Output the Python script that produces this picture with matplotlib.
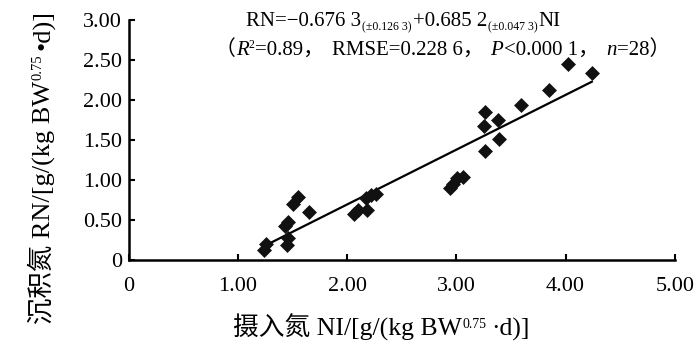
import matplotlib
matplotlib.use("Agg")
import matplotlib.pyplot as plt
from matplotlib.transforms import IdentityTransform

SERIF = ["Liberation Serif", "Noto Sans CJK SC"]
plt.rcParams["font.family"] = SERIF

# intake N (NI) and retained N (RN), g/(kg BW^0.75 d)
ni = [1.24, 1.26, 1.45, 1.46, 1.43, 1.46, 1.50, 1.55, 1.65,
      2.06, 2.10, 2.18, 2.17, 2.22, 2.26,
      2.94, 2.97, 3.01, 3.06, 3.26, 3.39, 3.25, 3.26, 3.38,
      3.59, 3.85, 4.02, 4.24]
rn = [0.13, 0.20, 0.19, 0.27, 0.43, 0.47, 0.70, 0.79, 0.60,
      0.58, 0.63, 0.63, 0.78, 0.81, 0.82,
      0.90, 0.95, 1.02, 1.04, 1.36, 1.51, 1.68, 1.85, 1.75,
      1.94, 2.13, 2.45, 2.34]

intercept = -0.6763
slope = 0.6852

x_ticks = [0, 1, 2, 3, 4, 5]
x_tick_labels = ["0", "1.00", "2.00", "3.00", "4.00", "5.00"]
y_ticks = [0, 0.5, 1.0, 1.5, 2.0, 2.5, 3.0]
y_tick_labels = ["0", "0.50", "1.00", "1.50", "2.00", "2.50", "3.00"]


def draw_run(fig, x, y, pieces, vertical=False, align="left"):
    # pieces: (text, size, style, rise_px, gap_px); placed one after another
    renderer = fig.canvas.get_renderer()
    items = []
    for text, size, style, rise, gap in pieces:
        t = fig.text(0, 0, text, transform=IdentityTransform(), family=SERIF,
                     size=size, style=style, rotation=90 if vertical else 0,
                     rotation_mode="anchor", ha="left", va="baseline")
        bb = t.get_window_extent(renderer)
        length = bb.height if vertical else bb.width
        items.append((t, length + gap, rise))
    total = sum(l for _, l, _ in items)
    pos = -total / 2 if align == "center" else 0.0
    for t, length, rise in items:
        if vertical:
            t.set_position((x - rise, y + pos))
        else:
            t.set_position((x + pos, y + rise))
        pos += length


fig = plt.figure(figsize=(7.0, 3.47), dpi=100)
ax = fig.add_axes([0.184, 0.251, 0.78, 0.691])

ax.scatter(ni, rn, marker="D", s=58, color="#111111", zorder=3, linewidths=0)
x_fit = [min(ni), max(ni)]
y_fit = [intercept + slope * v for v in x_fit]
ax.plot(x_fit, y_fit, color="black", lw=1.6, zorder=2)

ax.set_xlim(0, 5)
ax.set_ylim(0, 3)
ax.set_xticks(x_ticks)
ax.set_xticklabels(x_tick_labels)
ax.set_yticks(y_ticks)
ax.set_yticklabels(y_tick_labels)
ax.tick_params(direction="in", length=4, width=1.5, labelsize=16, colors="black")
ax.tick_params(axis="x", pad=12)
ax.tick_params(axis="y", pad=5)
for side in ("top", "right"):
    ax.spines[side].set_visible(False)
for side in ("left", "bottom"):
    ax.spines[side].set_linewidth(1.8)

draw_run(fig, 381, 11, [
    ("摄入氮 NI/[g/(kg BW", 18.5, "normal", 0, 1),
    ("0.75", 10, "normal", 8, 4),
    ("·d)]", 18.5, "normal", 0, 0),
], align="center")

draw_run(fig, 50, 180, [
    ("沉积氮 RN/[g/(kg BW", 19, "normal", 0, 1),
    ("0.75", 10.5, "normal", 8, 4),
    ("•d)]", 19, "normal", 0, 0),
], vertical=True, align="center")

eq = 15
esub = 8.5
draw_run(fig, 246, 321, [
    ("RN=−0.676 3", eq, "normal", 0, 1),
    ("(±0.126 3)", esub, "normal", -4, 1),
    ("+0.685 2", eq, "normal", 0, 1),
    ("(±0.047 3)", esub, "normal", -4, 1),
    ("NI", eq, "normal", 0, 0),
])
draw_run(fig, 215, 292, [
    ("（", eq, "normal", 0, 0),
    ("R", eq, "italic", 0, 0),
    ("2", esub, "normal", 7, 1),
    ("=0.89，", eq, "normal", 0, 7),
    ("RMSE=0.228 6，", eq, "normal", 0, 7),
    ("P", eq, "italic", 0, 1),
    ("<0.000 1，", eq, "normal", 0, 7),
    ("n", eq, "italic", 0, 1),
    ("=28）", eq, "normal", 0, 0),
])

fig.savefig("out.png", dpi=100)
